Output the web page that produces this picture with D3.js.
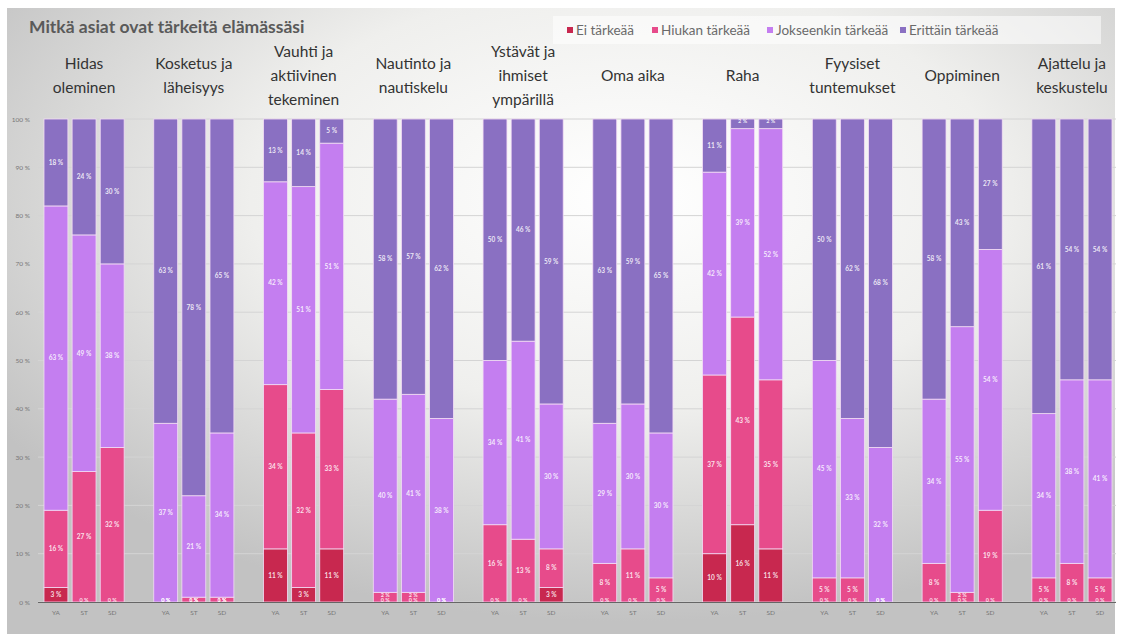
<!DOCTYPE html>
<html><head><meta charset="utf-8">
<script src="https://cdn.jsdelivr.net/npm/d3@7"></script>
<style>body{margin:0;background:#fff;} svg{display:block;font-family:Lato,"Open Sans",sans-serif;}</style>
</head><body>
<svg id="chart" width="1121" height="640"></svg>
<script>
const groupLabels = ["Hidas\noleminen","Kosketus ja\nläheisyys","Vauhti ja\naktiivinen\ntekeminen","Nautinto ja\nnautiskelu","Ystävät ja\nihmiset\nympärillä","Oma aika","Raha","Fyysiset\ntuntemukset","Oppiminen","Ajattelu ja\nkeskustelu"];
const subgroups = ["YA","ST","SD"];
const seriesNames = ["Ei tärkeää","Hiukan tärkeää","Jokseenkin tärkeää","Erittäin tärkeää"];
const seriesColors = ["#c8284f","#e74b8b","#c47ef0","#8a70c2"];
const eiTarkeaa     = [[3,0,0],[0,0,0],[11,3,11],[0,0,0],[0,0,3],[0,0,0],[10,16,11],[0,0,0],[0,0,0],[0,0,0]];
const hiukanTarkeaa = [[16,27,32],[0,1,1],[34,32,33],[2,2,0],[16,13,8],[8,11,5],[37,43,35],[5,5,0],[8,2,19],[5,8,5]];
const jokseenkin    = [[63,49,38],[37,21,34],[42,51,51],[40,41,38],[34,41,30],[29,30,30],[42,39,52],[45,33,32],[34,55,54],[34,38,41]];
const erittain      = [[18,24,30],[63,78,65],[13,14,5],[58,57,62],[50,46,59],[63,59,65],[11,2,2],[50,62,68],[58,43,27],[61,54,54]];
const yTicks = [0,10,20,30,40,50,60,70,80,90,100];
const title = "Mitkä asiat ovat tärkeitä elämässäsi";

const svg = d3.select("#chart");
const W = 1121, H = 640;
const defs = svg.append("defs");
const rg = defs.append("radialGradient").attr("id","bg").attr("cx","56%").attr("cy","30%").attr("r","68%");
rg.append("stop").attr("offset","0%").attr("stop-color","#ffffff");
rg.append("stop").attr("offset","50%").attr("stop-color","#efefed");
rg.append("stop").attr("offset","100%").attr("stop-color","#c2c2c2");
svg.append("rect").attr("width",W).attr("height",H).attr("fill","#fff");
svg.append("rect").attr("x",7).attr("y",8).attr("width",1108).attr("height",626).attr("fill","url(#bg)");

// build rows
const keys = ["ei","hiukan","jok","eri"];
const srcs = [eiTarkeaa, hiukanTarkeaa, jokseenkin, erittain];
const rows = [];
groupLabels.forEach((g,gi)=>subgroups.forEach((s,si)=>{
  const r = {group:gi, sub:s};
  keys.forEach((k,ki)=> r[k] = srcs[ki][gi][si]);
  rows.push(r);
}));
const stack = d3.stack().keys(keys)(rows);

const y = d3.scaleLinear().domain([0,100]).range([602,119]);
const x0 = d3.scaleBand().domain(d3.range(groupLabels.length)).range([44,1112]).paddingInner(0.27).paddingOuter(0);
const x1 = d3.scaleBand().domain(subgroups).range([0,x0.bandwidth()]).paddingInner(0.15).paddingOuter(0);

// grid
svg.append("g").selectAll("line").data(yTicks).join("line")
  .attr("x1",38).attr("x2",1116).attr("y1",d=>y(d)).attr("y2",d=>y(d))
  .attr("stroke","#d4d4d4").attr("stroke-width",1);

// y axis labels
const yAxis = d3.axisLeft(y).tickValues(yTicks).tickSize(0).tickPadding(0).tickFormat(d=>d+" %");
const ya = svg.append("g").attr("transform","translate(30,0)").call(yAxis);
ya.select(".domain").remove();
ya.selectAll("text").attr("fill","#777").attr("font-size",6.5).attr("font-family","Lato,sans-serif");

// bars
const layer = svg.append("g").selectAll("g").data(stack).join("g").attr("fill",(d,i)=>seriesColors[i]);
layer.selectAll("rect").data(d=>d).join("rect")
  .attr("x",d=>x0(d.data.group)+x1(d.data.sub))
  .attr("width",x1.bandwidth())
  .attr("y",d=>y(d[1]))
  .attr("height",d=>y(d[0])-y(d[1]))
  .attr("stroke","#f3dcf5").attr("stroke-width",0.8);

// data labels
stack.forEach((ser,si)=>{
  svg.append("g").selectAll("text").data(ser).join("text")
    .attr("x",d=>x0(d.data.group)+x1(d.data.sub)+x1.bandwidth()/2)
    .attr("y",d=>{const v=d[1]-d[0]; return v===0? y(d[0])-1.5 : (v<3 ? y(d[1])+2.5 : y((d[0]+d[1])/2));})
    .attr("dy","0.35em").attr("text-anchor","middle")
    .attr("font-size",d=>(d[1]-d[0])<3?5.5:6.5).attr("font-weight","bold").attr("fill","#fff").attr("fill-opacity",0.85)
    .text(d=>(d[1]-d[0])+" %");
});

// baseline
svg.append("line").attr("x1",38).attr("x2",1116).attr("y1",y(0)+0.5).attr("y2",y(0)+0.5).attr("stroke","#666").attr("stroke-width",1.2);

// x sub labels
rows.forEach(r=>{
  svg.append("text").attr("x",x0(r.group)+x1(r.sub)+x1.bandwidth()/2).attr("y",615)
    .attr("text-anchor","middle").attr("font-size",6.5).attr("fill","#777").text(r.sub);
});

// group labels
groupLabels.forEach((g,gi)=>{
  const lines = g.split("\n");
  const lh = 24, cy = 76;
  const t = svg.append("text").attr("text-anchor","middle").attr("font-size",15.5).attr("fill","#333");
  lines.forEach((ln,li)=>{
    t.append("tspan").attr("x",x0(gi)+x0.bandwidth()/2)
      .attr("y",cy + (li-(lines.length-1)/2)*lh).attr("dy","0.35em").text(ln);
  });
});

// title
svg.append("text").attr("x",29).attr("y",27).attr("dy","0.35em").attr("font-size",17.5).attr("font-weight","bold").attr("fill","#5a5a5a").text(title);

// legend
svg.append("rect").attr("x",553).attr("y",16).attr("width",548).attr("height",28).attr("fill","#ffffff").attr("fill-opacity",0.55);
const legX = [567,652,767,900];
seriesNames.forEach((n,i)=>{
  svg.append("rect").attr("x",legX[i]).attr("y",27).attr("width",6).attr("height",6).attr("fill",seriesColors[i]);
  svg.append("text").attr("x",legX[i]+9).attr("y",30).attr("dy","0.35em").attr("font-size",13.5).attr("fill","#6a6a6a").text(n);
});
</script>
</body></html>
